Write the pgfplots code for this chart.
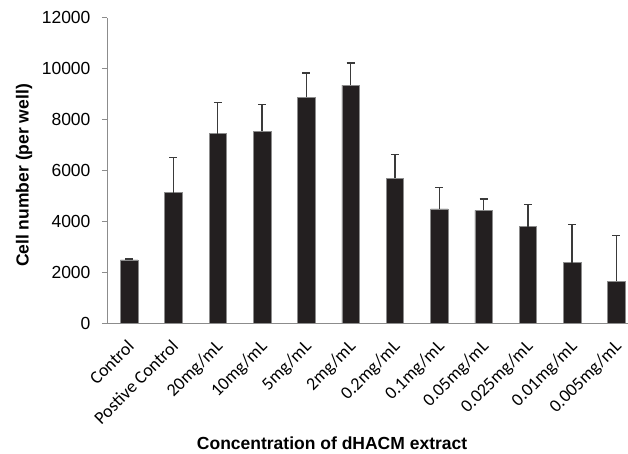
\documentclass[border=0pt]{standalone}
\usepackage{pgfplots}
\pgfplotsset{compat=1.18}
\usepackage{fontspec}
\setmainfont{Liberation Sans}
\newfontfamily\carlito{Carlito}
\definecolor{barfill}{HTML}{231F20}
\definecolor{axgray}{HTML}{8C8C8C}
\definecolor{errgray}{HTML}{3A3A3A}
\pgfplotstableread{
x y err
0 2480 30
1 5120 1380
2 7440 1220
3 7530 1060
4 8880 940
5 9350 870
6 5690 940
7 4490 830
8 4430 450
9 3790 860
10 2370 1490
11 1650 1780
}\datatable
\begin{document}
\begin{tikzpicture}
\begin{axis}[
  at={(0pt,0pt)}, anchor=south west,
  scale only axis,
  width=521pt, height=305.3pt,
  xmin=-0.5, xmax=11.26,
  ymin=0, ymax=12000,
  axis lines*=left,
  axis line style={axgray, line width=0.8pt},
  tick align=outside,
  ytick={0,2000,...,12000},
  scaled y ticks=false,
  ytick style={axgray, line width=0.8pt},
  major tick length=5pt,
  minor tick length=5pt,
  xtick={0,1,...,11},
  xtick style={draw=none},
  minor xtick={-0.5,0.5,...,10.5},
  minor x tick style={axgray, line width=0.8pt},
  xticklabels={Control,Postive Control,20mg/mL,10mg/mL,5mg/mL,2mg/mL,0.2mg/mL,0.1mg/mL,0.05mg/mL,0.025mg/mL,0.01mg/mL,0.005mg/mL},
  xticklabel style={xshift=-3pt, yshift=-9pt, rotate=45, anchor=north east, font=\carlito\fontsize{18}{18}\selectfont, inner sep=1pt},
  yticklabel style={font=\fontsize{17.5}{17.5}\selectfont, /pgf/number format/1000 sep={}, /pgf/number format/assume math mode=true, xshift=-8pt},
  ylabel={Cell number (per well)},
  ylabel style={at={(axis description cs:-0.159,0.483)}, anchor=center, font=\bfseries\fontsize{17.5}{17.5}\selectfont},
  xlabel={Concentration of dHACM extract},
  xlabel style={at={(axis description cs:0.432,-0.393)}, anchor=center, font=\bfseries\fontsize{17.5}{17.5}\selectfont},
  clip=false,
]
\addplot[ybar, bar width=0.395, fill=barfill, draw=axgray, line width=0.5pt,
  error bars/.cd, y dir=plus, y explicit,
  error bar style={errgray, line width=1.4pt},
  error mark options={errgray, line width=1.4pt, mark size=4pt, rotate=90}]
  table[x=x, y=y, y error=err] {\datatable};
\end{axis}
\pgfresetboundingbox
\useasboundingbox (-107pt,-131pt) rectangle (521pt,323pt);
\end{tikzpicture}
\end{document}
